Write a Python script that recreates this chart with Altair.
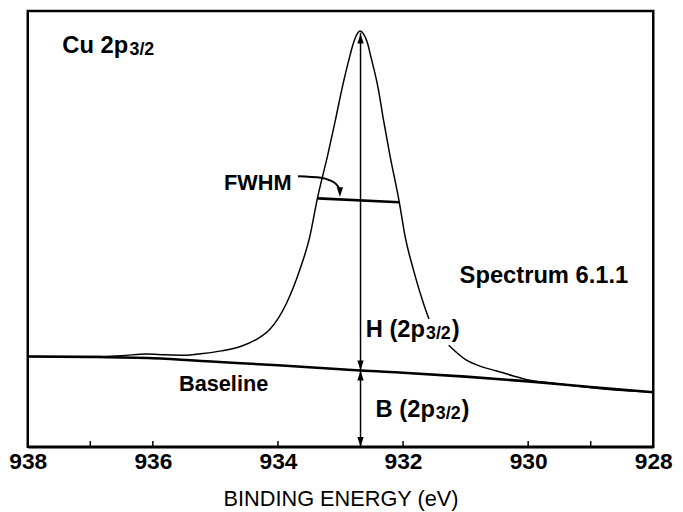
import altair as alt
import pandas as pd

# ---- data (binding energy in eV, intensity in arbitrary units) ----
seg1_energy = [938.0, 937.5, 937.0, 936.5, 936.1, 935.8, 935.5, 935.2, 934.9, 934.6, 934.335,
               934.125, 933.861, 933.651, 933.493, 933.371, 933.202, 933.087, 932.976,
               932.85, 932.792, 932.74, 932.687, 932.63, 932.57, 932.518, 932.397, 932.308,
               932.213, 932.06, 931.965, 931.834, 931.676, 931.586]
seg1_int = [20.7, 20.7, 20.7, 20.9, 21.3, 21.1, 21.0, 21.4, 22.0, 23.0, 24.7,
            27.0, 33.0, 40.6, 48.1, 56.9, 67.1, 74.6, 82.2,
            89.7, 92.7, 94.6, 95.4, 94.7, 92.7, 89.7, 82.2, 74.6,
            67.1, 56.1, 48.1, 40.6, 33.0, 29.3]
seg2_energy = [931.27, 931.0, 930.75, 930.5, 930.25, 930.0, 929.6, 929.2, 928.6, 928.0]
seg2_int = [23.3, 20.0, 18.4, 17.4, 16.3, 15.3, 14.6, 13.9, 13.0, 12.5]

base_energy = [938, 937, 936, 935, 934, 933, 932.68, 932, 931, 930, 929, 928]
base_int = [20.7, 20.6, 20.3, 19.5, 18.7, 17.8, 17.5, 17.0, 16.1, 15.0, 13.7, 12.5]

fwhm_energy = [933.36, 932.06]
fwhm_int = [57.0, 56.1]

curl_energy = [933.68, 933.31, 933.18, 933.07, 933.02]
curl_int = [62.1, 61.75, 61.2, 60.25, 59.3]

peak_energy = 932.68
peak_top = 95.0
baseline_at_peak = 17.5

tick_values = [938, 936, 934, 932, 930, 928]
minor_ticks = [937, 936, 934, 932, 930, 929]

main_labels = ["Cu 2p", "Spectrum 6.1.1", "H (2p", ")", "B (2p", ")"]
main_E = [937.447, 931.096, 932.597, 931.223, 932.439, 931.065]
main_I = [92.06, 39.23, 26.87, 26.87, 8.46, 8.46]

small_labels = ["FWHM", "Baseline"]
small_E = [934.861, 935.583]
small_I = [60.54, 14.29]

sub_labels = ["3/2", "3/2", "3/2"]
sub_E = [936.373, 931.633, 931.476]
sub_I = [90.93, 25.85, 7.48]

up_E = [peak_energy, peak_energy]
up_I = [94.8, baseline_at_peak]
down_E = [peak_energy, peak_energy, 933.01]
down_I = [baseline_at_peak, 0.0, 57.3]

# ---- tables ----
spec = pd.DataFrame({
    "E": seg1_energy + seg2_energy,
    "I": seg1_int + seg2_int,
    "seg": ["a"] * len(seg1_energy) + ["b"] * len(seg2_energy),
    "o": list(range(len(seg1_energy) + len(seg2_energy))),
})
base = pd.DataFrame({"E": base_energy, "I": base_int})
fwhm = pd.DataFrame({"E": fwhm_energy, "I": fwhm_int})
curl = pd.DataFrame({"E": curl_energy, "I": curl_int, "o": list(range(len(curl_energy)))})
vline = pd.DataFrame({"E": [peak_energy], "I": [0.0], "I2": [peak_top]})
ticks = pd.DataFrame({"E": minor_ticks, "I": [0.0] * len(minor_ticks), "I2": [1.3] * len(minor_ticks)})
main_df = pd.DataFrame({"E": main_E, "I": main_I, "t": main_labels})
small_df = pd.DataFrame({"E": small_E, "I": small_I, "t": small_labels})
sub_df = pd.DataFrame({"E": sub_E, "I": sub_I, "t": sub_labels})
up_df = pd.DataFrame({"E": up_E, "I": up_I})
down_df = pd.DataFrame({"E": down_E, "I": down_I})

FONT = "Liberation Sans"

X = alt.X("E:Q",
          scale=alt.Scale(domain=[938, 928], nice=False, zero=False),
          axis=alt.Axis(values=tick_values, format="d", ticks=False, grid=False,
                        domainColor="black", domainWidth=2.5,
                        labelFont=FONT, labelFontWeight="bold", labelFontSize=23,
                        labelColor="black", labelPadding=4, labelFlush=False,
                        labelOverlap=False, labelBound=False,
                        titleFont=FONT, titleFontSize=22, titleFontWeight="normal",
                        titleColor="black", titlePadding=15),
          title="BINDING ENERGY (eV)")
Y = alt.Y("I:Q", scale=alt.Scale(domain=[0, 100], nice=False, zero=False), axis=None)

spec_line = alt.Chart(spec).mark_line(color="black", strokeWidth=1.5, interpolate="monotone").encode(
    x=X, y=Y, detail="seg:N", order="o:Q")
base_line = alt.Chart(base).mark_line(color="black", strokeWidth=2.6, interpolate="monotone").encode(
    x=X, y=Y)
fwhm_line = alt.Chart(fwhm).mark_line(color="black", strokeWidth=2.6).encode(x=X, y=Y)
curl_line = alt.Chart(curl).mark_line(color="black", strokeWidth=2, interpolate="monotone").encode(
    x=X, y=Y, order="o:Q")
arrow_rule = alt.Chart(vline).mark_rule(color="black", strokeWidth=1.5).encode(
    x=X, y=Y, y2="I2:Q")
tick_rules = alt.Chart(ticks).mark_rule(color="black", strokeWidth=1.5).encode(
    x=X, y=Y, y2="I2:Q")
up_heads = alt.Chart(up_df).mark_point(shape="M0,0L-0.32,1L0.32,1Z", filled=True, size=400,
                                       color="black", opacity=1).encode(x=X, y=Y)
down_heads = alt.Chart(down_df).mark_point(shape="M0,0L-0.32,-1L0.32,-1Z", filled=True, size=400,
                                           color="black", opacity=1).encode(x=X, y=Y)
main_text = alt.Chart(main_df).mark_text(font=FONT, fontSize=24, fontWeight="bold", align="left",
                                         baseline="middle", color="black").encode(x=X, y=Y, text="t:N")
small_text = alt.Chart(small_df).mark_text(font=FONT, fontSize=22, fontWeight="bold", align="left",
                                           baseline="middle", color="black").encode(x=X, y=Y, text="t:N")
sub_text = alt.Chart(sub_df).mark_text(font=FONT, fontSize=18, fontWeight="bold", align="left",
                                       baseline="middle", color="black").encode(x=X, y=Y, text="t:N")

chart = alt.layer(
    tick_rules, base_line, spec_line, fwhm_line, curl_line, arrow_rule,
    up_heads, down_heads, main_text, small_text, sub_text
).properties(
    width=633, height=441,
    autosize=alt.AutoSizeParams(type="none"),
    padding={"left": 20, "top": 0, "right": 22, "bottom": 63},
).configure_view(stroke="black", strokeWidth=2.5)

chart.save("out.html", embed_options={"renderer": "svg", "actions": False})
